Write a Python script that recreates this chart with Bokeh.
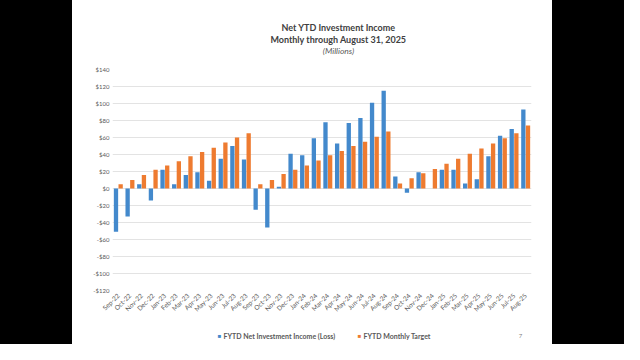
import math
from bokeh.plotting import figure
from bokeh.models import FactorRange, FixedTicker, Label, Spacer, Range1d, ColumnDataSource
from bokeh.layouts import row, column
from bokeh.transform import dodge
from bokeh.embed import file_html
from bokeh.resources import INLINE

months = ["Sep-22", "Oct-22", "Nov-22", "Dec-22", "Jan-23", "Feb-23", "Mar-23", "Apr-23",
          "May-23", "Jun-23", "Jul-23", "Aug-23", "Sep-23", "Oct-23", "Nov-23", "Dec-23",
          "Jan-24", "Feb-24", "Mar-24", "Apr-24", "May-24", "Jun-24", "Jul-24", "Aug-24",
          "Sep-24", "Oct-24", "Nov-24", "Dec-24", "Jan-25", "Feb-25", "Mar-25", "Apr-25",
          "May-25", "Jun-25", "Jul-25", "Aug-25"]
income = [-51, -33, 5, -14, 22, 5, 16, 19, 9, 35, 50, 34,
          -25, -46, 2, 41, 39, 59, 78, 53, 77, 83, 101, 115,
          14, -5, 19, 0, 22, 22, 6, 11, 38, 62, 70, 93]
target = [5, 10, 16, 22, 27, 32, 38, 43, 48, 54, 60, 65,
          5, 10, 17, 22, 27, 33, 39, 44, 50, 55, 61, 67,
          6, 12, 18, 23, 29, 35, 41, 47, 53, 59, 65, 74]
ytick_values = list(range(-120, 141, 20))
ytick_labels = [("$%d" % v) if v >= 0 else ("-$%d" % -v) for v in ytick_values]

title_lines = ["Net YTD Investment Income", "Monthly through August 31, 2025", "(Millions)"]
series_names = ["FYTD Net Investment Income (Loss)", "FYTD Monthly Target"]
page_number = "7"
BLUE = "#4389CC"
ORANGE = "#EE7B30"

W = 480
HEAD_H, MAIN_H, FOOT_H = 62, 258, 24


def blank(height):
    f = figure(width=W, height=height, toolbar_location=None, output_backend="svg",
               x_range=Range1d(0, 1), y_range=Range1d(0, 1), min_border=0,
               background_fill_color="white", border_fill_color="white")
    f.outline_line_color = None
    f.axis.visible = False
    f.grid.visible = False
    return f


# x is measured from the chart frame's left edge (frames are aligned in the column)
def lab(f, x, y, text, size, color, style="normal", align="center"):
    f.add_layout(Label(x=x, y=y, x_units="screen", y_units="screen", text=text,
                       text_align=align, text_baseline="middle", text_font="Lato",
                       text_font_size=size, text_color=color, text_font_style=style))


# header with the three title lines
head = blank(HEAD_H)
lab(head, 226, 35, title_lines[0], "9px", "#404040", "bold")
lab(head, 226, 23.3, title_lines[1], "9px", "#404040", "bold")
lab(head, 226, 12, title_lines[2], "8.5px", "#595959", "italic")

# main chart
src = ColumnDataSource(dict(month=months, income=income, target=target))
p = figure(x_range=FactorRange(factors=months), y_range=Range1d(-120, 140),
           width=W, height=MAIN_H, toolbar_location=None, output_backend="svg",
           min_border_left=40, min_border_right=21, min_border_top=7, min_border_bottom=30,
           background_fill_color="white", border_fill_color="white")
p.outline_line_color = None

p.vbar(x=dodge("month", -0.2, range=p.x_range), top="income", bottom=0, width=0.37,
       source=src, fill_color=BLUE, line_color=None)
p.vbar(x=dodge("month", 0.2, range=p.x_range), top="target", bottom=0, width=0.37,
       source=src, fill_color=ORANGE, line_color=None)

p.xgrid.grid_line_color = None
p.ygrid.ticker = FixedTicker(ticks=ytick_values)
p.ygrid.grid_line_color = "#dcdcdc"
p.ygrid.grid_line_width = 0.8

p.yaxis.ticker = FixedTicker(ticks=ytick_values)
p.yaxis.major_label_overrides = dict(zip(ytick_values, ytick_labels))
p.yaxis.axis_line_color = None
p.yaxis.major_tick_line_color = None
p.yaxis.minor_tick_line_color = None
p.yaxis.major_tick_out = 0
p.yaxis.major_tick_in = 0
p.yaxis.minor_tick_out = 0
p.yaxis.major_label_text_font = "Lato"
p.yaxis.major_label_text_font_size = "6px"
p.yaxis.major_label_text_color = "#595959"
p.yaxis.major_label_standoff = 3

p.xaxis.axis_line_color = None
p.xaxis.major_tick_line_color = None
p.xaxis.major_tick_out = 0
p.xaxis.major_tick_in = 0
p.xaxis.major_label_orientation = math.pi / 4
p.xaxis.major_label_text_font = "Lato"
p.xaxis.major_label_text_font_size = "6.5px"
p.xaxis.major_label_text_color = "#595959"
p.xaxis.major_label_standoff = 4

# footer with legend and page number
foot = blank(FOOT_H)
lab(foot, 107, 8.7, "\u25A0", "6px", BLUE)
lab(foot, 111, 8.7, series_names[0], "7px", "#595959", "bold", "left")
lab(foot, 247, 8.7, "\u25A0", "6px", ORANGE)
lab(foot, 251, 8.7, series_names[1], "7px", "#595959", "bold", "left")
lab(foot, 408, 8.7, page_number, "6px", "#808080")

slide = column(head, p, foot, spacing=0)
left = Spacer(width=72, height=HEAD_H + MAIN_H + FOOT_H, styles={"background-color": "black"})
right = Spacer(width=72, height=HEAD_H + MAIN_H + FOOT_H, styles={"background-color": "black"})
layout = row(left, slide, right, spacing=0)

open("out.html", "w").write(file_html(layout, INLINE))
